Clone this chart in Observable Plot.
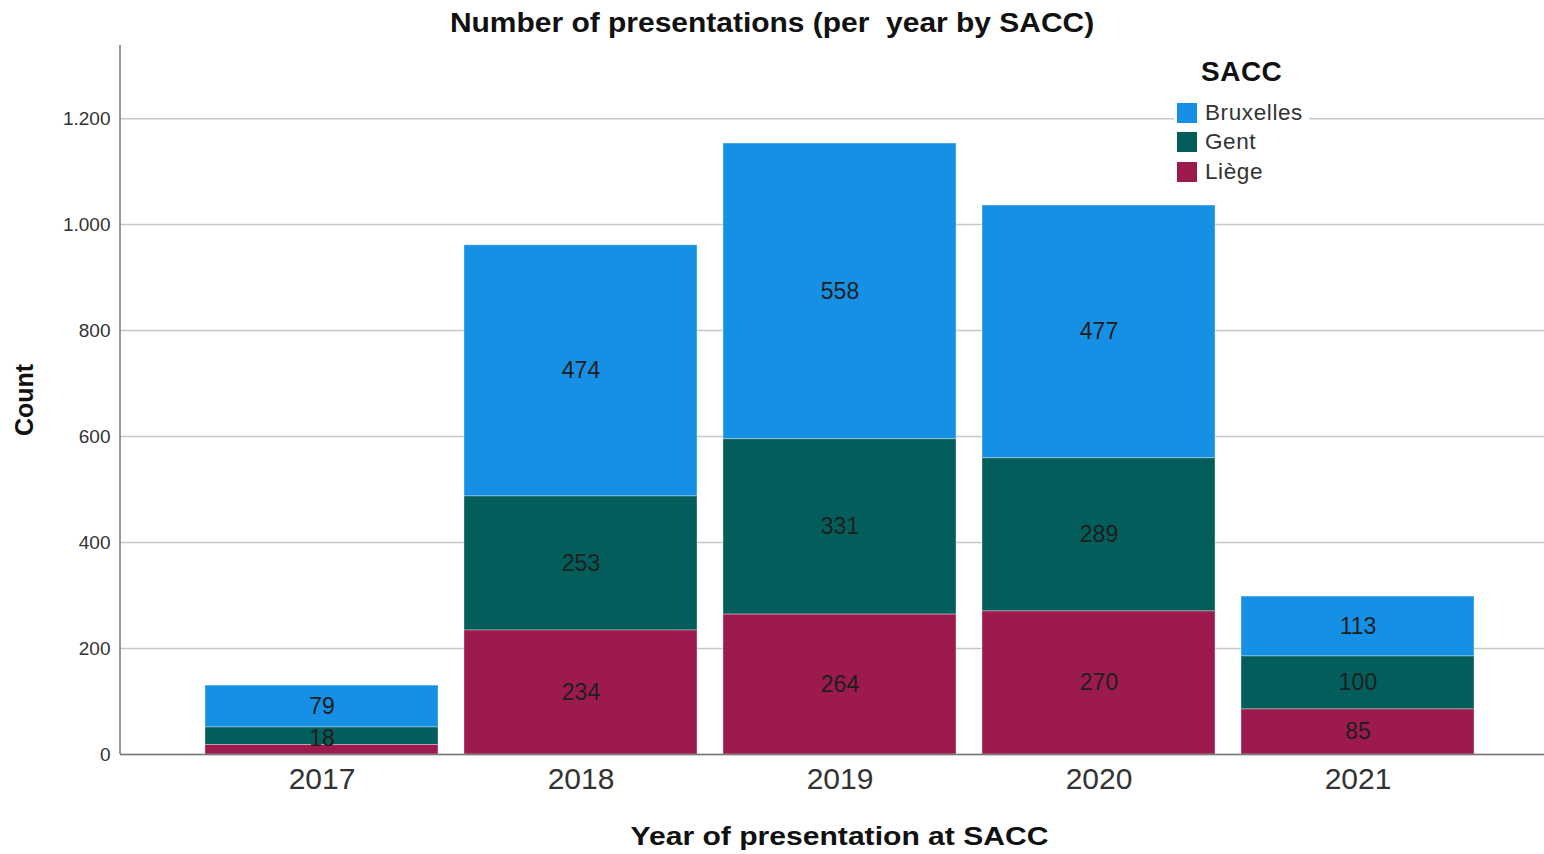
<!DOCTYPE html>
<html>
<head>
<meta charset="utf-8">
<script src="https://cdn.jsdelivr.net/npm/d3@7"></script>
<script src="https://cdn.jsdelivr.net/npm/@observablehq/plot@0.6"></script>
<style>
  body { margin: 0; background: #fff; font-family: "Liberation Sans", Arial, sans-serif; }
  #wrap { position: relative; width: 1544px; height: 854px; overflow: hidden; }
  #title { height: 40px; line-height: 45px; text-align: center; font-weight: bold; font-size: 28px; color: #111; white-space: pre; }
  #title span { display: inline-block; transform: scaleX(1.07); }
  #legend { position: absolute; left: 1174px; top: 55px; background: #fff; padding: 0 6px 4px 3px; }
  #legend .head { font-weight: bold; font-size: 28px; letter-spacing: 0.5px; color: #111; margin-left: 24px; line-height: 34px; margin-bottom: 9px; }
  #legend .row { display: flex; align-items: center; height: 29.5px; font-size: 22.5px; letter-spacing: 0.6px; color: #333; }
  #legend .sw { width: 20px; height: 20px; margin-right: 8px; }
</style>
</head>
<body>
<div id="wrap">
  <div id="title"><span>Number of presentations (per  year by SACC)</span></div>
  <div id="chart"></div>
  <div id="legend"></div>
</div>
<script>
const years = ["2017", "2018", "2019", "2020", "2021"];
const saccs = ["Bruxelles", "Gent", "Liège"];
const colors = ["#1690e4", "#035d5a", "#9d1a4e"];
const bruxelles = [79, 474, 558, 477, 113];
const gent = [33, 253, 331, 289, 100];
const liege = [18, 234, 264, 270, 85];
const yTicks = [0, 200, 400, 600, 800, 1000, 1200];

const series = {Bruxelles: bruxelles, Gent: gent, "Liège": liege};
const data = [];
years.forEach((y, i) => saccs.forEach(s => data.push({year: y, sacc: s, value: series[s][i]})));

const fmt = d => d3.format(",")(d).replace(/,/g, ".");
const stackOrder = ["Liège", "Gent", "Bruxelles"];
const hidden = d => d.year === "2017" && (d.sacc === "Gent" || d.sacc === "Liège");

const W = 1544, H = 814, ML = 120, MT = 5, MB = 100;
const xTitle = "Year of presentation at SACC";

const chart = Plot.plot({
  width: W,
  height: H,
  marginLeft: ML,
  marginRight: 0,
  marginTop: MT,
  marginBottom: MB,
  style: {fontFamily: "Liberation Sans, Arial, sans-serif", background: "#fff"},
  x: {domain: years, paddingInner: 0.1, paddingOuter: 0.1, insetLeft: 59, insetRight: 44, label: null},
  y: {domain: [0, 1338], label: null},
  color: {domain: saccs, range: colors},
  marks: [
    Plot.gridY(yTicks, {stroke: "#c8c8c8", strokeOpacity: 1, strokeWidth: 1.5}),
    Plot.barY(data, Plot.stackY({x: "year", y: "value", fill: "sacc", order: stackOrder, stroke: "#ffffff", strokeOpacity: 0.35, strokeWidth: 1})),
    Plot.text(data, Plot.stackY({x: "year", y: "value", z: "sacc", order: stackOrder, text: d => hidden(d) ? "" : String(d.value), fill: "#1e1e1e", fontSize: 23})),
    Plot.text(data.filter(d => d.year === "2017" && d.sacc === "Liège"), {x: "year", y: d => d.value / 2, text: d => String(d.value), dy: -11, fill: "#1e1e1e", fontSize: 23}),
    Plot.ruleY([0], {stroke: "#777", strokeWidth: 1.5}),
    Plot.axisY(yTicks, {tickSize: 0, tickPadding: 10, fontSize: 19, fill: "#333", tickFormat: fmt, label: null}),
    Plot.axisX({tickSize: 0, tickPadding: 13, fontSize: 30, fill: "#333", label: null}),
    Plot.text(["Count"], {frameAnchor: "left", textAnchor: "middle", dx: -96, rotate: -90, fontWeight: "bold", fontSize: 25, fill: "#111"}),
    Plot.text([xTitle], {frameAnchor: "bottom", textAnchor: "middle", dy: 90, dx: 7, fontWeight: "bold", fontSize: 26, fill: "#111"})
  ]
});
document.getElementById("chart").appendChild(chart);

const svg = d3.select(chart);
// left axis line along the frame edge
svg.append("line").attr("x1", ML).attr("x2", ML).attr("y1", MT).attr("y2", H - MB)
  .attr("stroke", "#777").attr("stroke-width", 1.5);
// widen the x title slightly, as in the reference
svg.selectAll("text").filter(function() { return this.textContent === xTitle; })
  .attr("textLength", 418).attr("lengthAdjust", "spacingAndGlyphs");

const legend = document.getElementById("legend");
legend.innerHTML = '<div class="head">SACC</div>' + saccs.map((s, i) =>
  `<div class="row"><div class="sw" style="background:${colors[i]}"></div>${s}</div>`).join("");
</script>
</body>
</html>
